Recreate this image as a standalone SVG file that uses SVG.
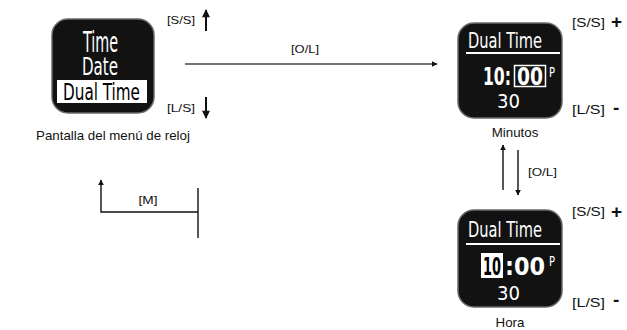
<svg xmlns="http://www.w3.org/2000/svg" width="627" height="330" viewBox="0 0 627 330">
<style>
.lbl{font-family:"Liberation Sans",Arial,sans-serif;font-size:11.5px;fill:#111}
.lbl2{font-family:"Liberation Sans",Arial,sans-serif;font-size:12.5px;fill:#111}
.cap{font-family:"Liberation Sans",Arial,sans-serif;font-size:13.3px;fill:#111;text-anchor:middle}
.pm{font-family:"Liberation Sans",Arial,sans-serif;font-size:19px;font-weight:bold;fill:#111}
.lcd{font-family:"DejaVu Sans Condensed","DejaVu Sans",sans-serif;fill:#fff}
.lcdk{font-family:"DejaVu Sans Condensed","DejaVu Sans",sans-serif;fill:#000}
.body{fill:#121212;stroke:#6a6a6a;stroke-width:1.5}
.ln{stroke:#111;stroke-width:1.4;fill:none}
</style>
<defs>
<marker id="ah" viewBox="0 0 10 10" refX="9" refY="5" markerWidth="6" markerHeight="6" orient="auto" markerUnits="userSpaceOnUse">
<path d="M0,0 L10,5 L0,10 z" fill="#111"/>
</marker>
<marker id="ahb" viewBox="0 0 10 10" refX="9" refY="5" markerWidth="9" markerHeight="8" orient="auto" markerUnits="userSpaceOnUse">
<path d="M0,0 L10,5 L0,10 z" fill="#111"/>
</marker>
</defs>

<g id="menu">
<rect class="body" x="52" y="19" width="102" height="94" rx="16"/>
<text class="lcd" transform="translate(83,52) scale(1,1.75)" font-size="16" textLength="35" lengthAdjust="spacingAndGlyphs">Time</text>
<text class="lcd" transform="translate(82,75) scale(1,1.48)" font-size="16.7" textLength="36" lengthAdjust="spacingAndGlyphs">Date</text>
<rect x="57" y="80" width="90" height="23" fill="#fff"/>
<text class="lcdk" transform="translate(63,100) scale(1,1.38)" font-size="16.8" textLength="77" lengthAdjust="spacingAndGlyphs">Dual Time</text>
<text class="cap" x="113" y="140">Pantalla del menú de reloj</text>
<text class="lbl" x="167" y="24" textLength="28" lengthAdjust="spacingAndGlyphs">[S/S]</text>
<text class="lbl" x="167" y="112" textLength="28" lengthAdjust="spacingAndGlyphs">[L/S]</text>
</g>

<g id="minutos">
<rect class="body" x="458" y="23" width="104" height="95" rx="16"/>
<text class="lcd" transform="translate(468,48) scale(1,1.28)" font-size="16.2" textLength="74" lengthAdjust="spacingAndGlyphs">Dual Time</text>
<line x1="466" y1="53" x2="560" y2="53" stroke="#fff" stroke-width="2"/>
<text class="lcd" transform="translate(483,85) scale(1,1.45)" font-size="17" font-weight="bold" textLength="28" lengthAdjust="spacingAndGlyphs">10:</text>
<text class="lcd" transform="translate(517,85) scale(1,1.45)" font-size="17" font-weight="bold" textLength="26" lengthAdjust="spacingAndGlyphs">00</text>
<rect x="514.5" y="65.5" width="31" height="21" fill="none" stroke="#fff" stroke-width="1.5"/>
<text class="lcd" transform="translate(549,77) scale(1,1.25)" font-size="11" textLength="6" lengthAdjust="spacingAndGlyphs">P</text>
<text class="lcd" x="497" y="108" font-size="20" textLength="23" lengthAdjust="spacingAndGlyphs">30</text>
<text class="cap" x="515" y="137">Minutos</text>
<text class="lbl2" x="572" y="27" textLength="33" lengthAdjust="spacingAndGlyphs">[S/S]</text>
<text class="pm" x="611" y="28">+</text>
<text class="lbl2" x="572" y="114" textLength="33" lengthAdjust="spacingAndGlyphs">[L/S]</text>
<text class="pm" x="613" y="114">-</text>
</g>

<g id="hora">
<rect class="body" x="458" y="210" width="104" height="97" rx="16"/>
<text class="lcd" transform="translate(468,237) scale(1,1.28)" font-size="16.2" textLength="74" lengthAdjust="spacingAndGlyphs">Dual Time</text>
<line x1="466" y1="244" x2="560" y2="244" stroke="#fff" stroke-width="2"/>
<rect x="481" y="253" width="22" height="25" fill="#fff"/>
<text class="lcdk" transform="translate(483,275) scale(1,1.7)" font-size="14.4" font-weight="bold" textLength="18" lengthAdjust="spacingAndGlyphs">10</text>
<text class="lcd" transform="translate(505,275) scale(1,1.45)" font-size="17" font-weight="bold" textLength="40" lengthAdjust="spacingAndGlyphs">:00</text>
<text class="lcd" transform="translate(549,266) scale(1,1.25)" font-size="11" textLength="6" lengthAdjust="spacingAndGlyphs">P</text>
<text class="lcd" x="497" y="300" font-size="20" textLength="23" lengthAdjust="spacingAndGlyphs">30</text>
<text class="cap" x="510" y="327">Hora</text>
<text class="lbl2" x="572" y="216" textLength="33" lengthAdjust="spacingAndGlyphs">[S/S]</text>
<text class="pm" x="611" y="218">+</text>
<text class="lbl2" x="572" y="307" textLength="33" lengthAdjust="spacingAndGlyphs">[L/S]</text>
<text class="pm" x="613" y="306">-</text>
</g>

<g id="connectors">
<line x1="185" y1="64" x2="437" y2="64" stroke="#444" stroke-width="1.6" marker-end="url(#ah)"/>
<text class="lbl" x="305" y="53" text-anchor="middle" textLength="28" lengthAdjust="spacingAndGlyphs">[O/L]</text>
<line x1="206" y1="31" x2="206" y2="10" stroke="#111" stroke-width="2" marker-end="url(#ahb)"/>
<line x1="206" y1="97" x2="206" y2="118" stroke="#111" stroke-width="2" marker-end="url(#ahb)"/>
<line x1="503" y1="190" x2="503" y2="145" class="ln" marker-end="url(#ah)"/>
<line x1="518" y1="150" x2="518" y2="195" class="ln" marker-end="url(#ah)"/>
<text class="lbl" x="528" y="176" textLength="29" lengthAdjust="spacingAndGlyphs">[O/L]</text>
<polyline points="198,212 101,212 101,180" class="ln" marker-end="url(#ah)"/>
<line x1="198" y1="188" x2="198" y2="238" class="ln"/>
<text class="lbl" x="148" y="204" text-anchor="middle" textLength="19" lengthAdjust="spacingAndGlyphs">[M]</text>
</g>
</svg>
